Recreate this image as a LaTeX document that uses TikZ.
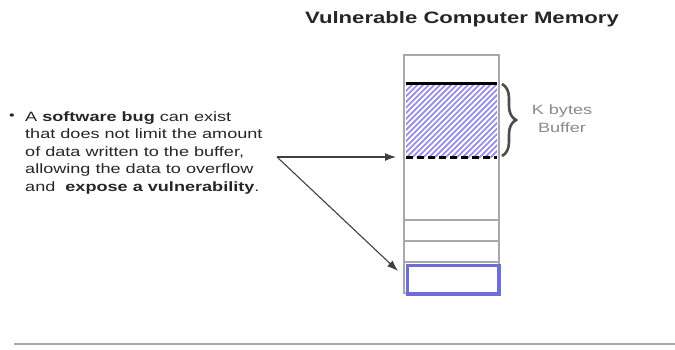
\documentclass[tikz,border=0pt]{standalone}
\usepackage{fontspec}
\setmainfont[FakeStretch=1.34]{Liberation Sans}
\usetikzlibrary{arrows.meta,decorations.pathreplacing}
\definecolor{memgray}{HTML}{A8A8A8}
\definecolor{hatchblue}{HTML}{9890E4}
\definecolor{boxblue}{HTML}{6E6ED8}
\definecolor{txtgray}{HTML}{8A8A8A}
\definecolor{arrgray}{HTML}{404040}
\tikzset{
  cell/.style={draw=memgray, line width=1.4pt, minimum width=95pt, inner sep=0pt, outer sep=0pt},
  pointer/.style={draw=arrgray, line width=1.1pt, -{Latex[length=11pt,width=8pt]}},
  body/.style={font=\fontsize{13.5}{17.5}\selectfont, text=black!85, inner sep=0pt},
}
\begin{document}
\begin{tikzpicture}[x=1pt,y=-1pt]
\useasboundingbox (0,0) rectangle (675,349);
% title
\node (title) [font=\fontsize{16.5}{18}\selectfont\bfseries, text=black!85] at (462,19) {Vulnerable Computer Memory};
% memory column
\node (mem) [cell, minimum height=238pt, anchor=north west] at (404,55) {};
% hatched buffer
\node (buf) [minimum width=91pt, minimum height=74pt, inner sep=0pt, anchor=north west] at (406,83) {};
\begin{scope}
  \clip (406,83) rectangle (497,157);
  \foreach \i in {0,...,32} {
    \draw[hatchblue, line width=1.8pt] (400+5.6*\i-80,160) -- (400+5.6*\i,80);
  }
\end{scope}
\draw[black, line width=3pt] (buf.north west) -- (buf.north east);
\draw[black, line width=3pt, dash pattern=on 7pt off 4pt] (buf.south west) -- (buf.south east);
% dividers
\node (d1) [cell, minimum height=21pt, anchor=north west, draw=none] at (404,220) {};
\draw[memgray, line width=1.4pt] (d1.north west) -- (d1.north east);
\draw[memgray, line width=1.4pt] (d1.south west) -- (d1.south east);
\node (d2) [cell, minimum height=21pt, anchor=north west, draw=none] at (404,241) {};
\draw[memgray, line width=1.4pt] (d2.south west) -- (d2.south east);
% blue box
\node (ret) [draw=boxblue, line width=3.5pt, minimum width=91.5pt, minimum height=28.5pt, inner sep=0pt, anchor=north west] at (405.75,263.75) {};
% brace
\draw[decorate, decoration={brace, amplitude=14pt}, draw=black!70, line width=2.6pt] (502,84) -- (502,156);
\node (kb) [font=\fontsize{13.5}{18}\selectfont, text=txtgray, align=center] at (562,119) {K bytes\\Buffer};
% bullet text
\node (bul) [body, font=\fontsize{12}{14}\selectfont] at (12,117) {•};
\node (txt) [body, align=left, anchor=north west] at (25,111.5) {A \textbf{software bug} can exist\\that does not limit the amount\\of data written to the buffer,\\allowing the data to overflow\\and\ \ \textbf{expose a vulnerability}.};
% arrows
\coordinate (src) at (277,157);
\coordinate (t1) at (396,157);
\coordinate (t2) at (398,271);
\draw[pointer] (src) -- (t1);
\draw[pointer] (src) -- (t2);
% bottom rule
\coordinate (r1) at (14,344);
\coordinate (r2) at (675,344);
\draw[memgray, line width=2pt] (r1) -- (r2);
\end{tikzpicture}
\end{document}
